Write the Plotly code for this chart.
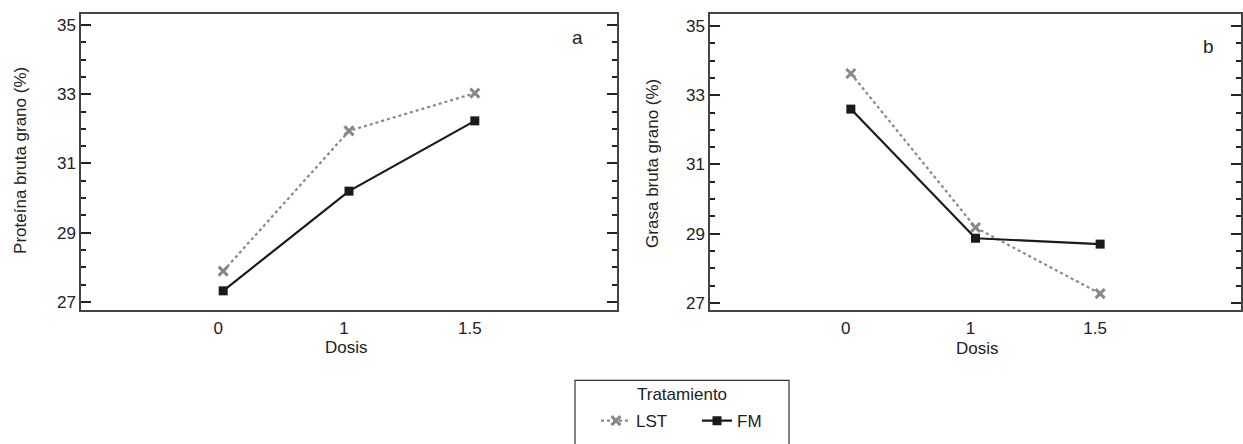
import plotly.graph_objects as go

dosis = ["0", "1", "1.5"]
prot_lst = [27.89, 31.94, 33.03]
prot_fm = [27.32, 30.20, 32.23]
grasa_lst = [33.63, 29.18, 27.27]
grasa_fm = [32.60, 28.87, 28.70]

W, H = 1243, 444
xidx = list(range(len(dosis)))
FAM = "Liberation Sans, Arial, sans-serif"
TXT = "#222222"

fig = go.Figure()

lst_style = dict(mode="lines+markers", line=dict(color="#888888", width=2.2, dash="dot"),
                 marker=dict(symbol="x-thin", size=9, color="#888888", line=dict(color="#888888", width=3)))
fm_style = dict(mode="lines+markers", line=dict(color="#1a1a1a", width=2.2),
                marker=dict(symbol="square", size=9, color="#1a1a1a"))

fig.add_trace(go.Scatter(x=xidx, y=prot_lst, name="LST", xaxis="x", yaxis="y", **lst_style))
fig.add_trace(go.Scatter(x=xidx, y=prot_fm, name="FM", xaxis="x", yaxis="y", **fm_style))
fig.add_trace(go.Scatter(x=xidx, y=grasa_lst, name="LST", xaxis="x2", yaxis="y2", showlegend=False, **lst_style))
fig.add_trace(go.Scatter(x=xidx, y=grasa_fm, name="FM", xaxis="x2", yaxis="y2", showlegend=False, **fm_style))

font = dict(family=FAM, size=17, color=TXT)
axcol = "#444444"

def xax(dom, anchor):
    return dict(domain=dom, anchor=anchor, range=[-1.13, 3.13], tickvals=xidx, ticktext=dosis,
                showline=True, linecolor=axcol, linewidth=1.5, mirror=True, ticks="",
                showgrid=False, zeroline=False, tickfont=font, ticklabelshift=-5,
                ticklabelstandoff=2)

def yax(anchor, rng):
    return dict(domain=[1 - 312 / H, 1 - 14 / H], anchor=anchor, range=rng, tick0=27, dtick=2,
                showline=True, linecolor=axcol, linewidth=1.5, mirror="ticks", ticks="inside",
                ticklen=10, tickwidth=1.5, tickcolor=TXT,
                minor=dict(dtick=0.5, ticks="inside", ticklen=5, tickwidth=1.5, tickcolor=TXT),
                showgrid=False, zeroline=False, tickfont=font)

def txt(text, x, y, size=17, angle=0):
    return dict(text=text, x=x / W, y=1 - y / H, xref="paper", yref="paper", showarrow=False,
                xanchor="center", yanchor="middle", textangle=angle,
                font=dict(family=FAM, size=size, color=TXT))

fig.update_layout(
    width=W, height=H,
    margin=dict(l=0, r=0, t=0, b=0),
    paper_bgcolor="white", plot_bgcolor="white",
    font=font,
    xaxis=xax([81 / W, 617 / W], "y"),
    yaxis=yax("x", [26.77, 35.32]),
    xaxis2=xax([710 / W, 1241 / W], "y2"),
    yaxis2=yax("x2", [26.8, 35.35]),
    legend=dict(orientation="h", x=596 / W, xanchor="left", y=1 - 424 / H, yanchor="middle",
                borderwidth=0, bgcolor="rgba(0,0,0,0)",
                font=font, itemwidth=30, entrywidth=56),
    shapes=[dict(type="rect", xref="paper", yref="paper",
                 x0=575 / W, x1=789 / W, y0=-0.05, y1=1 - 383 / H,
                 line=dict(color="#333333", width=1.2), fillcolor="rgba(0,0,0,0)", layer="below")],
    annotations=[
        txt("a", 577, 38, 19),
        txt("b", 1208, 47, 19),
        txt("Proteína bruta grano (%)", 21, 162, 17, -90),
        txt("Grasa bruta grano (%)", 653, 165, 17, -90),
        txt("Dosis", 346, 350),
        txt("Dosis", 977, 351),
        txt("Tratamiento", 682, 397),
    ],
)

fig.write_html("out.html", config={"displayModeBar": False},
               post_script="document.body.style.margin='0';")
